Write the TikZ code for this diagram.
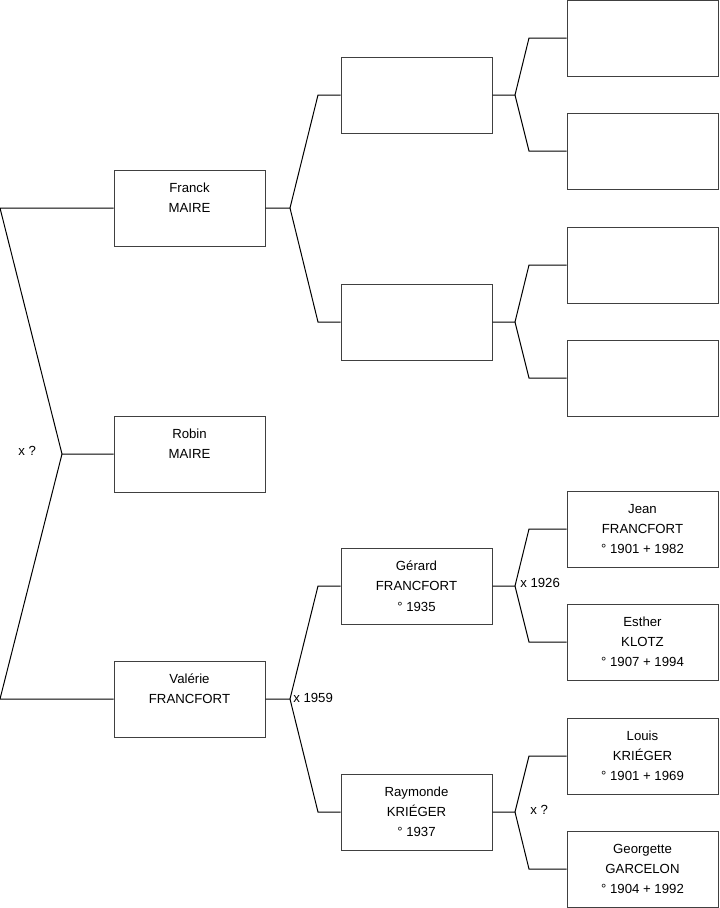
\documentclass[tikz,border=0pt]{standalone}
\usepackage{fontspec}
\setmainfont{Liberation Sans}
\usepackage{tikz}
\usetikzlibrary{positioning}
\tikzset{
  personbox/.style={draw=black!75, line width=0.75pt, fill=white,
    minimum width=113.25pt, minimum height=57pt, inner sep=0pt,
    align=center, font=\fontsize{9.9}{15.2}\selectfont},
  link/.style={draw=black, line width=0.75pt},
  unionlabel/.style={font=\fontsize{9.9}{11}\selectfont, inner sep=0pt, anchor=west},
}

\begin{document}
\begin{tikzpicture}[x=0.75pt, y=-0.75pt]
  \useasboundingbox (0,0) rectangle (719,908);

  % Generation 1
  \node[personbox] (franck)  at (189.5,208) {Franck\\MAIRE\\\mbox{}};
  \node[personbox] (robin)   at (189.5,454) {Robin\\MAIRE\\\mbox{}};
  \node[personbox] (valerie) at (189.5,699) {Valérie\\FRANCFORT\\\mbox{}};

  % Generation 2
  \node[personbox] (pf) at (416.5,95)  {\mbox{}};
  \node[personbox] (mf) at (416.5,322) {\mbox{}};
  \node[personbox] (gerard)   at (416.5,586) {Gérard\\FRANCFORT\\° 1935};
  \node[personbox] (raymonde) at (416.5,812) {Raymonde\\KRIÉGER\\° 1937};

  % Generation 3
  \node[personbox] (pff) at (642.5,38)  {\mbox{}};
  \node[personbox] (pfm) at (642.5,151) {\mbox{}};
  \node[personbox] (mff) at (642.5,265) {\mbox{}};
  \node[personbox] (mfm) at (642.5,378) {\mbox{}};
  \node[personbox] (jean)      at (642.5,529) {Jean\\FRANCFORT\\° 1901 + 1982};
  \node[personbox] (esther)    at (642.5,642) {Esther\\KLOTZ\\° 1907 + 1994};
  \node[personbox] (louis)     at (642.5,756) {Louis\\KRIÉGER\\° 1901 + 1969};
  \node[personbox] (georgette) at (642.5,869) {Georgette\\GARCELON\\° 1904 + 1992};

  % Robin's parents
  \coordinate (rootTop) at (0,208);
  \coordinate (rootJ)   at (62,454);
  \coordinate (rootBot) at (0,699);
  \draw[link] (franck.west) -- (rootTop) -- (rootJ) -- (robin.west);
  \draw[link] (rootJ) -- (rootBot) -- (valerie.west);
  \node[unionlabel] (xroot) at (18,451) {x ?};

  % Franck's parents
  \coordinate (fJ) at (290,208);
  \draw[link] (franck.east) -- (fJ) -- (318,95) -- (pf.west);
  \draw[link] (fJ) -- (318,322) -- (mf.west);

  \coordinate (pfJ) at (515,95);
  \draw[link] (pf.east) -- (pfJ) -- (529,38) -- (pff.west);
  \draw[link] (pfJ) -- (529,151) -- (pfm.west);

  \coordinate (mfJ) at (515,322);
  \draw[link] (mf.east) -- (mfJ) -- (529,265) -- (mff.west);
  \draw[link] (mfJ) -- (529,378) -- (mfm.west);

  % Valérie's parents
  \coordinate (vJ) at (290,699);
  \draw[link] (valerie.east) -- (vJ) -- (318,586) -- (gerard.west);
  \draw[link] (vJ) -- (318,812) -- (raymonde.west);
  \node[unionlabel] (x1959) at (293,698) {x 1959};

  \coordinate (gJ) at (515,586);
  \draw[link] (gerard.east) -- (gJ) -- (529,529) -- (jean.west);
  \draw[link] (gJ) -- (529,642) -- (esther.west);
  \node[unionlabel] (x1926) at (520,583) {x 1926};

  \coordinate (rJ) at (515,812);
  \draw[link] (raymonde.east) -- (rJ) -- (529,756) -- (louis.west);
  \draw[link] (rJ) -- (529,869) -- (georgette.west);
  \node[unionlabel] (xray) at (530,810) {x ?};
\end{tikzpicture}
\end{document}
